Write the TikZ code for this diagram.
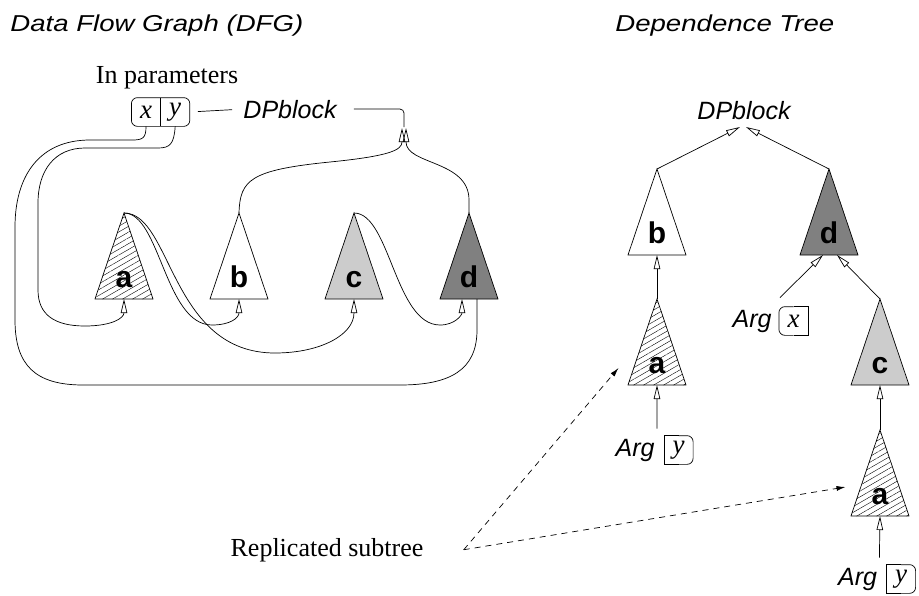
\documentclass[tikz,border=0pt]{standalone}
\usepackage{fontspec}
\setmainfont{Liberation Serif}
\setsansfont{Liberation Sans}
\newfontfamily\headfont[FakeStretch=1.2]{Liberation Sans}
\usetikzlibrary{shapes.geometric,arrows.meta,positioning,calc,patterns.meta}

\begin{document}
\begin{tikzpicture}[
    x=1pt, y=-1pt,
    line width=0.7pt,
    head/.style={font=\headfont\itshape\fontsize{23}{27}\selectfont, inner sep=0pt},
    note/.style={font=\fontsize{26}{30}\selectfont, inner sep=0pt},
    var/.style={font=\itshape\fontsize{27}{30}\selectfont, minimum width=28.5pt, minimum height=28pt, inner sep=0pt},
    slant/.style={font=\sffamily\itshape\fontsize{25}{30}\selectfont, inner sep=0pt},
    lbl/.style={font=\sffamily\bfseries\fontsize{30}{30}\selectfont, inner sep=0pt},
    tri/.style={isosceles triangle, shape border rotate=90, isosceles triangle stretches, minimum width=58pt, minimum height=86pt, inner sep=0pt, outer sep=0pt, draw, anchor=apex},
    hatched/.style={pattern={Lines[angle=30,distance=5pt,line width=0.4pt]}},
    arr/.style={-{Triangle[open,length=14pt,width=6.5pt]}},
    dasharr/.style={-{Latex[length=9pt,width=5pt]}, dash pattern=on 6pt off 5pt}
]
\useasboundingbox (0,0) rectangle (919,595);

% titles
\node[head, anchor=base west] (dfgtitle) at (10,31) {Data Flow Graph (DFG)};
\node[head, anchor=base west] (treetitle) at (615,31) {Dependence Tree};

% data flow graph
\node[note, anchor=base] (inpar) at (167,83) {In parameters};
\node[var] (xin) at (146,112) {x};
\node[var, right=0pt of xin] (yin) {y};
\draw[rounded corners=6pt] (xin.north west) rectangle (yin.south east);
\draw (xin.north east) -- (xin.south east);
\node[slant, anchor=base] (dpl) at (290,118) {DPblock};
\coordinate (joinl) at (402,128);
\coordinate (joinm) at (404,127);
\coordinate (joinr) at (406,128);

\node[tri, hatched] (dfga) at (124,213) {};
\node[tri] (dfgb) at (239,213) {};
\node[tri, fill=black!20] (dfgc) at (354,213) {};
\node[tri, fill=black!50] (dfgd) at (469,213) {};
\foreach \n/\t in {dfga/a, dfgb/b, dfgc/c, dfgd/d}
  \node[lbl, anchor=base] at ($(\n.lower side)+(0,-12)$) {\t};

\draw[shorten <=8pt, shorten >=11pt] (yin.east) -- (dpl.west);
\draw[rounded corners=4pt, shorten <=17pt] (dpl.east) -| (joinm);

% x -> d
\draw (xin.south) .. controls (146,138) and (143,140) .. (132,140) -- (90,140)
  .. controls (40,140) and (15,175) .. (15,227) -- (15,320)
  .. controls (15,365) and (35,385) .. (83,385) -- (400,385)
  .. controls (450,385) and (477,370) .. (477,330) -- ($(dfgd.lower side)+(8,0)$);
% y -> a
\draw[arr] (yin.south) .. controls (174,144) and (170,148) .. (158,148) -- (85,148)
  .. controls (55,148) and (38,170) .. (38,203) -- (38,290)
  .. controls (38,315) and (55,326) .. (85,326)
  .. controls (112,326) and (124,318) .. (dfga.lower side);
% a -> b, a -> c, c -> d
\draw[arr] (dfga.apex) .. controls (160,213) and (165,325) .. (212,325)
  .. controls (230,325) and (239,318) .. (dfgb.lower side);
\draw[arr] (dfga.apex) .. controls (172,213) and (170,353) .. (275,353)
  .. controls (320,353) and (354,335) .. (dfgc.lower side);
\draw[arr] (dfgc.apex) .. controls (390,213) and (395,325) .. (440,325)
  .. controls (455,325) and (462,315) .. ($(dfgd.lower side)+(-7,0)$);
% b, d -> DPblock
\draw[arr] (dfgb.apex) .. controls (240,180) and (250,170) .. (330,162)
  .. controls (390,156) and (402,150) .. (joinl);
\draw[arr] (dfgd.apex) -- (469,200) .. controls (469,160) and (406,165) .. (joinr);

% dependence tree
\node[slant, anchor=base] (tdp) at (744,119) {DPblock};
\coordinate (tdpl) at (740,127);
\coordinate (tdpr) at (746,127);

\node[tri] (tb) at (657,169) {};
\node[tri, fill=black!50] (td) at (829,169) {};
\node[tri, hatched] (ta1) at (657,299) {};
\node[tri, fill=black!20] (tc) at (880,299) {};
\node[tri, hatched] (ta2) at (880,430) {};
\foreach \n/\t in {tb/b, td/d, ta1/a, tc/c, ta2/a}
  \node[lbl, anchor=base] at ($(\n.lower side)+(0,-12)$) {\t};

\node[var] (argxv) at (793.5,321) {x};
\node[slant, left=7pt of argxv] (argx) {Arg};
\draw[rounded corners=6pt] (argxv.north) -| (argxv.west) |- (argxv.south);
\draw (argxv.north) -| (argxv.east) |- (argxv.south);

\node[var] (argyv1) at (678.5,450) {y};
\node[slant, left=9pt of argyv1] (argy1) {Arg};
\draw[rounded corners=6pt] (argyv1.north) -| (argyv1.east) |- (argyv1.south);
\draw (argyv1.north) -| (argyv1.west) |- (argyv1.south);

\node[var] (argyv2) at (901,579) {y};
\node[slant, left=9pt of argyv2] (argy2) {Arg};
\draw[rounded corners=6pt] (argyv2.north) -| (argyv2.east) |- (argyv2.south);
\draw (argyv2.north) -| (argyv2.west) |- (argyv2.south);

\draw[arr] (tb.apex) -- (tdpl);
\draw[arr] (td.apex) -- (tdpr);
\draw[arr] (ta1.apex) -- (tb.lower side);
\draw[arr] ($(argxv.north west)+(1,-9)$) -- ($(td.lower side)+(-6,0)$);
\draw[arr] (tc.apex) -- ($(td.lower side)+(8,0)$);
\draw[arr] (ta2.apex) -- (tc.lower side);
\draw[arr] ($(argyv1.north west)+(-7,-7)$) -- (ta1.lower side);
\draw[arr] ($(argyv2.north west)+(-7,-7)$) -- (ta2.lower side);

% replicated subtree
\node[note, anchor=base] (rep) at (327,556) {Replicated subtree};
\coordinate[right=40pt of rep] (fork);
\draw[dasharr] (fork) -- ($(ta1.left side)+(-24,26)$);
\draw[dasharr] (fork) -- ($(ta2.left side)+(-20,14)$);
\end{tikzpicture}
\end{document}
